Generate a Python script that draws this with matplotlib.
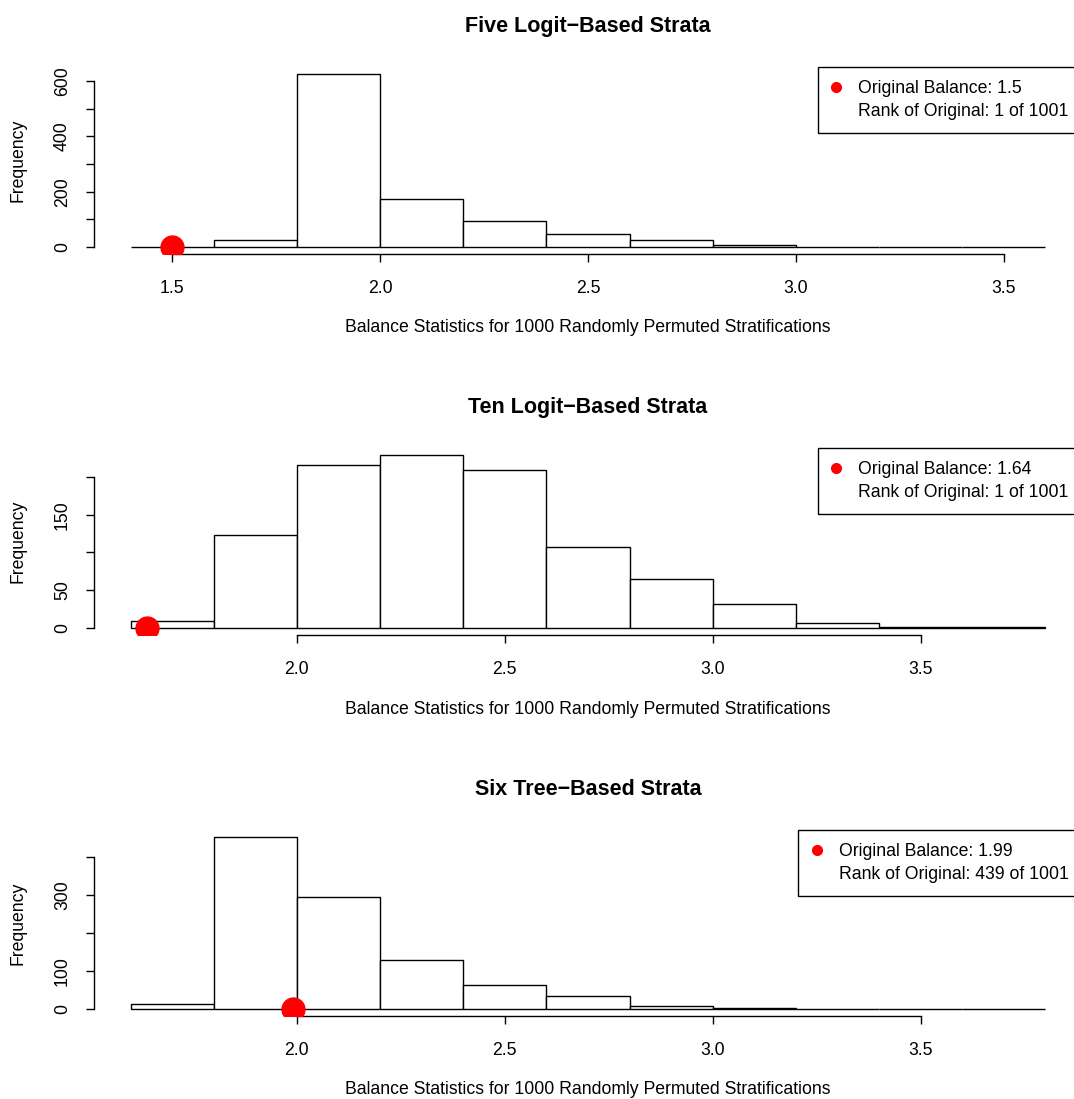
import matplotlib
matplotlib.use("Agg")
import matplotlib.pyplot as plt
from matplotlib.lines import Line2D
import numpy as np

plt.rcParams['font.family'] = ['Liberation Sans', 'DejaVu Sans']

# histogram data (bin edges, counts)
edges1 = [1.4, 1.6, 1.8, 2.0, 2.2, 2.4, 2.6, 2.8, 3.0, 3.2, 3.4, 3.6]
counts1 = [2, 24, 625, 173, 95, 46, 25, 6, 2, 1, 1]
edges2 = [1.6, 1.8, 2.0, 2.2, 2.4, 2.6, 2.8, 3.0, 3.2, 3.4, 3.6, 3.8]
counts2 = [9, 123, 216, 229, 209, 107, 65, 32, 7, 2, 1]
edges3 = [1.6, 1.8, 2.0, 2.2, 2.4, 2.6, 2.8, 3.0, 3.2, 3.4, 3.6, 3.8]
counts3 = [14, 452, 293, 130, 62, 35, 8, 3, 1, 1, 1]

titles = ["Five Logit\u2212Based Strata", "Ten Logit\u2212Based Strata", "Six Tree\u2212Based Strata"]
orig = [1.5, 1.64, 1.99]
ranks = ["1 of 1001", "1 of 1001", "439 of 1001"]
xticks = [[1.5, 2.0, 2.5, 3.0, 3.5], [2.0, 2.5, 3.0, 3.5], [2.0, 2.5, 3.0, 3.5]]
yticks = [[0, 100, 200, 300, 400, 500, 600], [0, 50, 100, 150, 200], [0, 100, 200, 300, 400]]
ylabs = [["0", "", "200", "", "400", "", "600"], ["0", "50", "", "150", ""], ["0", "100", "", "300", ""]]

W, H = 1074, 1099
fig = plt.figure(figsize=(W / 100, H / 100), dpi=100)

# plot regions in pixels (left, top, right, bottom) like R's par("plt")
regions = [(94, 67, 1082, 254), (94, 448, 1082, 635), (94, 830, 1082, 1016)]
xlabel = "Balance Statistics for 1000 Randomly Permuted Stratifications"
fs = 12.7

for i in range(3):
    l, t, r, b = regions[i]
    ax = fig.add_axes([l / W, 1 - b / H, (r - l) / W, (b - t) / H])
    edges = [edges1, edges2, edges3][i]
    counts = [counts1, counts2, counts3][i]
    ax.hist(edges[:-1], bins=edges, weights=counts, color='white', edgecolor='black', linewidth=1.0)
    # R style 4% padding
    xr = edges[-1] - edges[0]
    ax.set_xlim(edges[0] - 0.04 * xr, edges[-1] + 0.04 * xr)
    ym = max(counts)
    ax.set_ylim(-0.04 * ym, ym * 1.04)
    ax.plot(orig[i], 0, 'o', color='red', markersize=16.5, zorder=5)

    for s in ['top', 'right']:
        ax.spines[s].set_visible(False)
    ax.spines['left'].set_bounds(yticks[i][0], yticks[i][-1])
    ax.spines['bottom'].set_bounds(xticks[i][0], xticks[i][-1])
    ax.spines['left'].set_linewidth(1.0)
    ax.spines['bottom'].set_linewidth(1.0)
    ax.set_xticks(xticks[i])
    ax.set_xticklabels(["%.1f" % v for v in xticks[i]])
    ax.set_yticks(yticks[i])
    ax.set_yticklabels(ylabs[i], rotation=90, va='center')
    ax.tick_params(direction='out', length=5.5, width=1.0, labelsize=fs)
    ax.tick_params(axis='x', pad=13)
    ax.tick_params(axis='y', pad=11)

    ax.set_title(titles[i], fontsize=15.5, fontweight='bold', pad=25.5)
    hgt = b - t
    ax.text(0.5, -74 / hgt, xlabel, transform=ax.transAxes, ha='center', va='center', fontsize=fs)
    ax.text(-76 / (r - l), 0.5, "Frequency", transform=ax.transAxes, rotation=90,
            ha='center', va='center', fontsize=fs)

    handles = [Line2D([], [], marker='o', color='red', linestyle='none', markersize=7),
               Line2D([], [], linestyle='none')]
    leg = ax.legend(handles, ["Original Balance: %g" % orig[i], "Rank of Original: " + ranks[i]],
                    loc='upper right', bbox_to_anchor=(1, 1), borderaxespad=0, fontsize=fs,
                    fancybox=False, framealpha=1, edgecolor='black', handletextpad=0.95,
                    handlelength=0.6, labelspacing=0.3, borderpad=0.75)
    leg.get_frame().set_linewidth(1.0)

plt.savefig("out.png", dpi=100)
